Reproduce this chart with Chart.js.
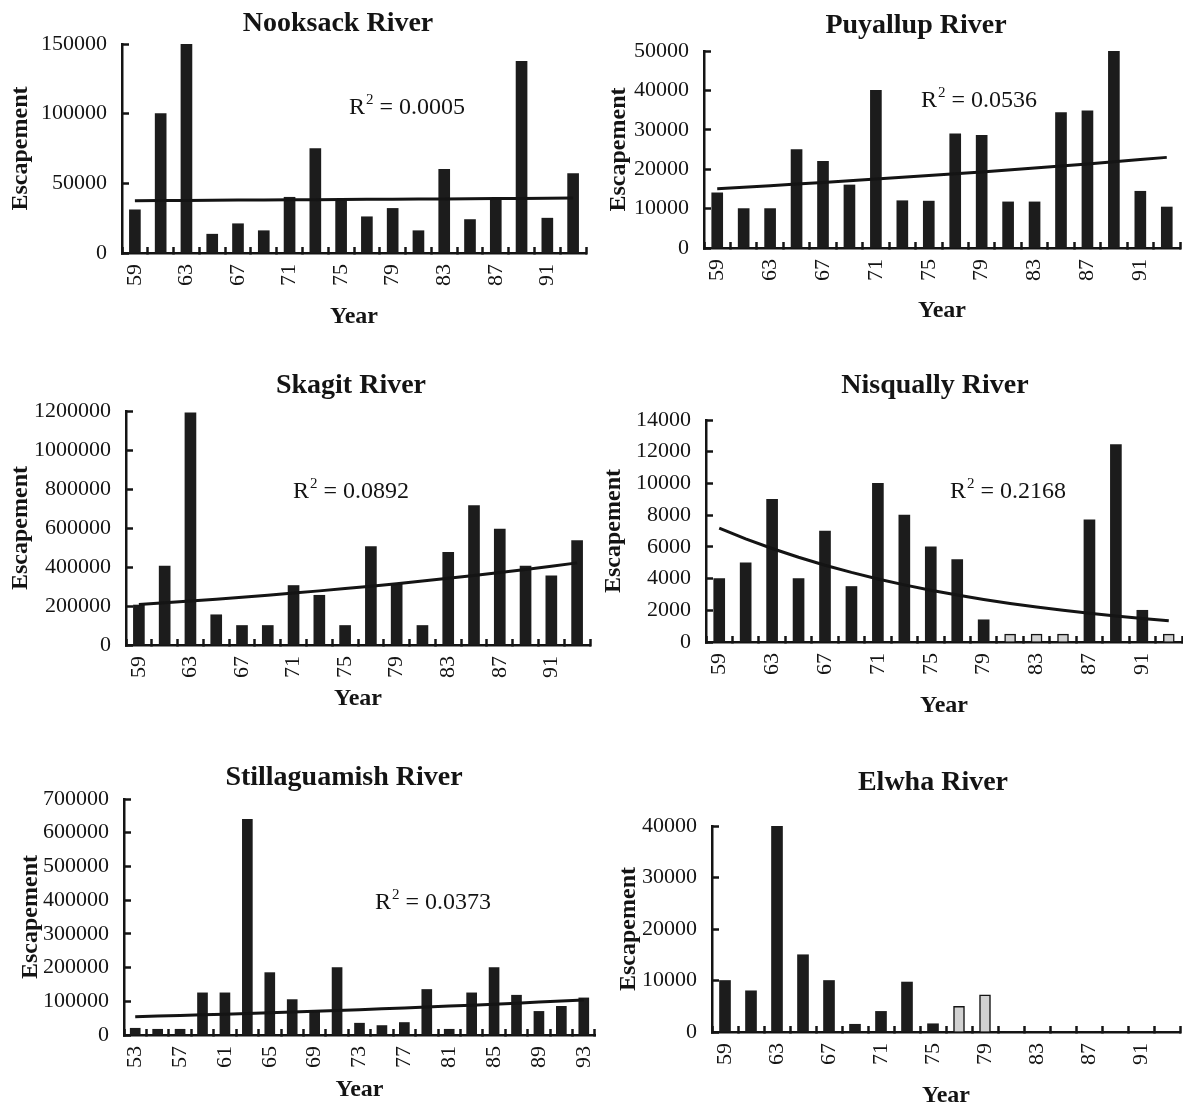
<!DOCTYPE html>
<html>
<head>
<meta charset="utf-8">
<title>Pink salmon escapement, Puget Sound rivers</title>
<script src="https://cdn.jsdelivr.net/npm/chart.js@4.4.1/dist/chart.umd.min.js"></script>
<style>
  html, body { margin: 0; padding: 0; background: #fff; width: 1183px; height: 1109px; overflow: hidden; }
  canvas { position: absolute; }
</style>
</head>
<body>
<script>
// Run years (odd years only) and the years that carry a tick label
const years59to93 = ['59','61','63','65','67','69','71','73','75','77','79','81','83','85','87','89','91','93'];
const years53to93 = ['53','55','57','59','61','63','65','67','69','71','73','75','77','79','81','83','85','87','89','91','93'];
const labelledYears59 = ['59','63','67','71','75','79','83','87','91'];
const labelledYears53 = ['53','57','61','65','69','73','77','81','85','89','93'];

// Escapement counts per run year
const nooksackEscapement      = [31000, 100000, 150000, 13500, 21000, 16000, 40000, 75000, 37500, 26000, 32000, 16000, 60000, 24000, 38000, 137500, 25000, 57000];
const puyallupEscapement      = [14000, 10000, 10000, 25000, 22000, 16000, 40000, 12000, 11900, 29000, 28600, 11700, 11700, 34400, 34800, 50000, 14400, 10400];
const skagitEscapement        = [205000, 405000, 1190000, 155000, 100000, 100000, 305000, 255000, 100000, 505000, 315000, 100000, 475000, 715000, 595000, 405000, 355000, 535000];
const nisquallyEscapement     = [4000, 5000, 9000, 4000, 7000, 3500, 10000, 8000, 6000, 5200, 1400, 500, 500, 500, 7700, 12450, 2000, 500];
const stillaguamishEscapement = [20000, 17000, 17000, 125000, 125000, 640000, 185000, 105000, 70000, 200000, 35000, 28000, 37000, 135000, 17000, 125000, 200000, 118000, 70000, 85000, 110000];
const elwhaEscapement         = [10000, 8000, 40000, 15000, 10000, 1500, 4000, 9700, 1600, 5000, 7200, 0, 0, 0, 0, 0, 0, 0];

// Years whose bars are shaded light (partial counts)
const nisquallyPartialYears = ['81','83','85','93'];
const elwhaPartialYears     = ['77','79'];

// Coefficients of determination printed beside the exponential trend lines
const r2Nooksack      = '0.0005';
const r2Puyallup      = '0.0536';
const r2Skagit        = '0.0892';
const r2Nisqually     = '0.2168';
const r2Stillaguamish = '0.0373';

// Axis ranges [max, step]
const yRangeNooksack      = [150000, 50000];
const yRangePuyallup      = [50000, 10000];
const yRangeSkagit        = [1200000, 200000];
const yRangeNisqually     = [14000, 2000];
const yRangeStillaguamish = [700000, 100000];
const yRangeElwha         = [40000, 10000];

const SERIF = '"Liberation Serif", "Times New Roman", Times, serif';
const INK = '#141414';

// Least-squares exponential trend (fit on ln y), evaluated at each category
function exponentialTrend(values) {
  let n = 0, sx = 0, sy = 0, sxx = 0, sxy = 0;
  values.forEach((v, i) => {
    if (v > 0) { const ly = Math.log(v); n++; sx += i; sy += ly; sxx += i * i; sxy += i * ly; }
  });
  const b = (n * sxy - sx * sy) / (n * sxx - sx * sx);
  const a = (sy - b * sx) / n;
  return values.map((_, i) => Math.exp(a + b * i));
}

// Titles and R² notes drawn on top of each panel
const panelLabels = {
  id: 'panelLabels',
  afterDraw(chart, _args, opts) {
    const ctx = chart.ctx;
    const [ox, oy] = opts.origin;
    ctx.save();
    ctx.fillStyle = INK;
    ctx.textBaseline = 'alphabetic';
    ctx.textAlign = 'center';
    ctx.font = 'bold 28px ' + SERIF;
    ctx.fillText(opts.title, opts.titlePos[0] - ox, opts.titlePos[1] - oy);
    if (opts.r2) {
      let x = opts.r2Pos[0] - ox;
      const y = opts.r2Pos[1] - oy;
      ctx.textAlign = 'left';
      ctx.font = '24px ' + SERIF;
      ctx.fillText('R', x, y);
      x += ctx.measureText('R').width + 1;
      ctx.font = '15px ' + SERIF;
      ctx.fillText('2', x, y - 10);
      x += ctx.measureText('2').width;
      ctx.font = '24px ' + SERIF;
      ctx.fillText(' = ' + opts.r2, x, y);
    }
    ctx.restore();
  }
};

const panels = [
  { title: 'Nooksack River', years: years59to93, shown: labelledYears59, values: nooksackEscapement,
    partial: [], r2: r2Nooksack, yRange: yRangeNooksack, trend: true,
    box: [0, 0, 592, 340], area: [122, 44, 586, 253], titlePos: [338, 31], r2Pos: [349, 114],
    yTitleX: 21, xTitleY: 317, barThickness: 11 },
  { title: 'Puyallup River', years: years59to93, shown: labelledYears59, values: puyallupEscapement,
    partial: [], r2: r2Puyallup, yRange: yRangePuyallup, trend: true,
    box: [592, 0, 591, 340], area: [704, 51, 1180, 248], titlePos: [916, 33], r2Pos: [921, 107],
    yTitleX: 619, xTitleY: 311, barThickness: 11 },
  { title: 'Skagit River', years: years59to93, shown: labelledYears59, values: skagitEscapement,
    partial: [], r2: r2Skagit, yRange: yRangeSkagit, trend: true,
    box: [0, 340, 592, 380], area: [126, 411, 590, 645], titlePos: [351, 393], r2Pos: [293, 498],
    yTitleX: 21, xTitleY: 699, barThickness: 11 },
  { title: 'Nisqually River', years: years59to93, shown: labelledYears59, values: nisquallyEscapement,
    partial: nisquallyPartialYears, r2: r2Nisqually, yRange: yRangeNisqually, trend: true,
    box: [592, 340, 591, 380], area: [706, 420, 1182, 642], titlePos: [935, 393], r2Pos: [950, 498],
    yTitleX: 614, xTitleY: 706, barThickness: 11 },
  { title: 'Stillaguamish River', years: years53to93, shown: labelledYears53, values: stillaguamishEscapement,
    partial: [], r2: r2Stillaguamish, yRange: yRangeStillaguamish, trend: true,
    box: [0, 720, 600, 389], area: [124, 799, 595, 1035], titlePos: [344, 785], r2Pos: [375, 909],
    yTitleX: 31, xTitleY: 1090, barThickness: 10 },
  { title: 'Elwha River', years: years59to93, shown: labelledYears59, values: elwhaEscapement,
    partial: elwhaPartialYears, r2: null, yRange: yRangeElwha, trend: false,
    box: [600, 720, 583, 389], area: [712, 826, 1180, 1032], titlePos: [933, 790], r2Pos: null,
    yTitleX: 629, xTitleY: 1096, barThickness: 11 }
];

const AXIS_TITLE_SIZE = 24;
const AXIS_TITLE_HALF = AXIS_TITLE_SIZE * 1.2 / 2;
const TICK_SIZE = 22;

panels.forEach(p => {
  const [bx, by, bw, bh] = p.box;
  const [L, T, R, B] = p.area;
  const canvas = document.createElement('canvas');
  canvas.width = bw; canvas.height = bh;
  canvas.style.left = bx + 'px'; canvas.style.top = by + 'px';
  canvas.style.width = bw + 'px'; canvas.style.height = bh + 'px';
  document.body.appendChild(canvas);

  const isPartial = p.years.map(y => p.partial.includes(y));
  const datasets = [{
    type: 'bar',
    data: p.values,
    backgroundColor: isPartial.map(f => f ? '#d2d2d2' : '#1c1c1c'),
    borderColor: INK,
    borderWidth: isPartial.map(f => f ? 1.5 : 0),
    borderSkipped: 'bottom',
    barThickness: p.barThickness,
    order: 2
  }];
  if (p.trend) {
    datasets.push({
      type: 'line',
      data: exponentialTrend(p.values),
      borderColor: INK,
      borderWidth: 3,
      pointRadius: 0,
      fill: false,
      tension: 0,
      order: 1
    });
  }

  new Chart(canvas, {
    data: { labels: p.years, datasets },
    options: {
      responsive: false,
      animation: false,
      devicePixelRatio: 1,
      layout: { padding: { left: 0, top: T - by, right: bx + bw - R, bottom: 0 } },
      plugins: {
        legend: { display: false },
        tooltip: { enabled: false },
        panelLabels: { origin: [bx, by], title: p.title, titlePos: p.titlePos, r2: p.r2, r2Pos: p.r2Pos }
      },
      scales: {
        x: {
          type: 'category',
          offset: true,
          border: { display: true, color: INK, width: 2.5 },
          grid: { offset: true, drawOnChartArea: false, drawTicks: true, tickLength: -6, tickWidth: 2.5, tickColor: INK, color: INK },
          ticks: {
            autoSkip: false, minRotation: 90, maxRotation: 90, padding: 17, color: INK,
            font: { family: SERIF, size: TICK_SIZE },
            callback(value) { const lab = this.getLabelForValue(value); return p.shown.includes(lab) ? lab : ''; }
          },
          title: {
            display: true, text: 'Year', color: INK,
            font: { family: SERIF, size: AXIS_TITLE_SIZE, weight: 'bold', lineHeight: 1.2 },
            padding: { top: 0, bottom: bh + by - p.xTitleY - AXIS_TITLE_HALF }
          },
          afterFit(scale) { scale.height = by + bh - B; scale.paddingLeft = 0; scale.paddingRight = 0; }
        },
        y: {
          type: 'linear',
          min: 0, max: p.yRange[0],
          border: { display: true, color: INK, width: 2.5 },
          grid: { drawOnChartArea: false, drawTicks: true, tickLength: -7, tickWidth: 2.5, tickColor: INK, color: INK },
          ticks: {
            stepSize: p.yRange[1], padding: 22, color: INK,
            font: { family: SERIF, size: TICK_SIZE },
            callback(value) { return String(value); }
          },
          title: {
            display: true, text: 'Escapement', color: INK,
            font: { family: SERIF, size: AXIS_TITLE_SIZE, weight: 'bold', lineHeight: 1.2 },
            padding: { top: p.yTitleX - bx - AXIS_TITLE_HALF, bottom: 0 }
          },
          afterFit(scale) { scale.width = L - bx; scale.paddingTop = 0; scale.paddingBottom = 0; }
        }
      }
    },
    plugins: [panelLabels]
  });
});
</script>
</body>
</html>
